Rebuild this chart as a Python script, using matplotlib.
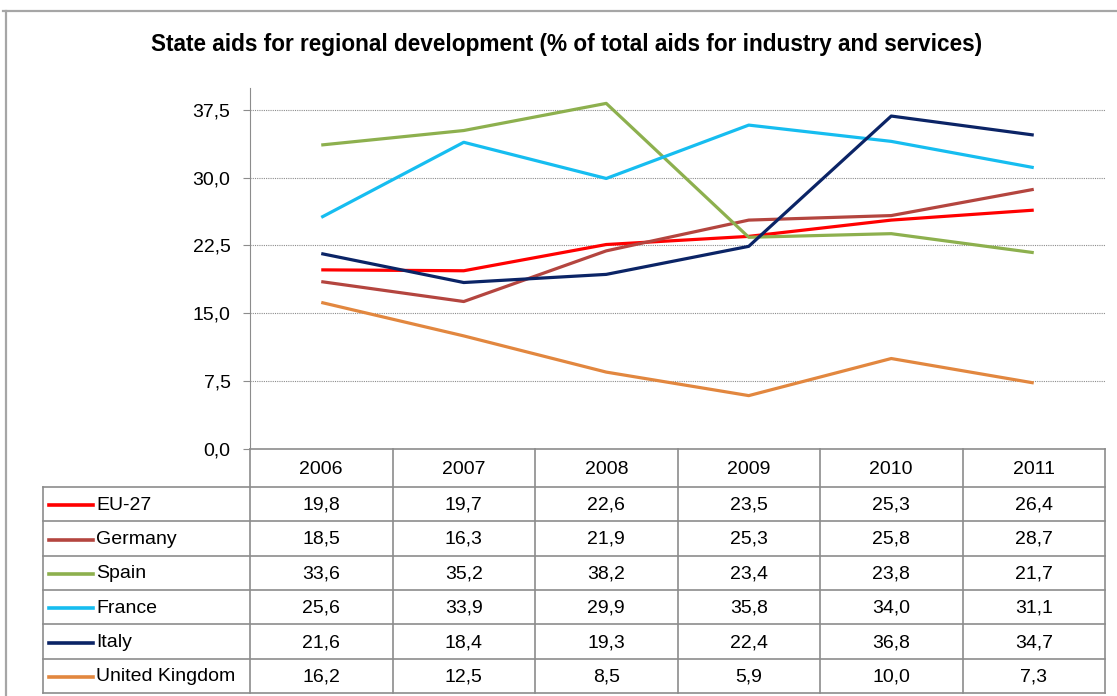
import matplotlib
matplotlib.use('Agg')
import matplotlib.pyplot as plt
from matplotlib.lines import Line2D

plt.rcParams['font.family'] = ['Liberation Sans', 'DejaVu Sans']

years = ['2006', '2007', '2008', '2009', '2010', '2011']
countries = ['EU-27', 'Germany', 'Spain', 'France', 'Italy', 'United Kingdom']
eu27 = [19.8, 19.7, 22.6, 23.5, 25.3, 26.4]
germany = [18.5, 16.3, 21.9, 25.3, 25.8, 28.7]
spain = [33.6, 35.2, 38.2, 23.4, 23.8, 21.7]
france = [25.6, 33.9, 29.9, 35.8, 34.0, 31.1]
italy = [21.6, 18.4, 19.3, 22.4, 36.8, 34.7]
uk = [16.2, 12.5, 8.5, 5.9, 10.0, 7.3]
yticks = [0.0, 7.5, 15.0, 22.5, 30.0, 37.5]

series = [eu27, germany, spain, france, italy, uk]
colors = ['#FF0000', '#B4453F', '#8DB04E', '#16BDF0', '#0B2466', '#E2873F']

W, H = 1117, 696
fig = plt.figure(figsize=(W / 100, H / 100), dpi=100)

def fx(px):
    return px / W

def fy(py):
    return 1 - py / H

fig.text(fx(567), fy(45), 'State aids for regional development (% of total aids for industry and services)',
         ha='center', va='center', fontsize=16.3, fontweight='bold')

# plot area
x0, x1, ytop, ybot = 250, 1105, 88, 449
ax = fig.add_axes([fx(x0), fy(ybot), fx(x1) - fx(x0), fy(ytop) - fy(ybot)])
xs = range(len(years))
for vals, c in zip(series, colors):
    ax.plot(xs, vals, color=c, linewidth=2.3, solid_capstyle='butt')
ax.set_xlim(-0.5, len(years) - 0.5)
ax.set_ylim(0, 39.9)
ax.set_yticks(yticks)
ax.set_yticklabels([('%.1f' % v).replace('.', ',') for v in yticks], fontsize=14)
ax.set_xticks([])
for v in yticks[1:]:
    ax.axhline(v, color='#8C8C8C', linewidth=0.8, linestyle=(0, (1, 1)), zorder=0)
for s in ['top', 'right', 'bottom']:
    ax.spines[s].set_visible(False)
ax.spines['left'].set_color('#8C8C8C')
ax.tick_params(axis='y', length=5, color='#8C8C8C', pad=9)

# overlay in pixel coords for frame + data table
tab = fig.add_axes([0, 0, 1, 1], facecolor='none')
tab.set_xlim(0, W)
tab.set_ylim(H, 0)
tab.axis('off')

# outer frame (only top and left visible in the crop)
tab.plot([3, W], [11, 11], color='#A6A6A6', linewidth=1.6)
tab.plot([6, 6], [11, H], color='#A6A6A6', linewidth=1.6)

grid_c = '#8C8C8C'
lab_x0 = 43
col_w = (x1 - x0) / len(years)
head_top, head_bot, tab_bot = 449, 487, 693
row_h = (tab_bot - head_bot) / len(countries)

# header row
tab.plot([x0, x1], [head_top, head_top], color=grid_c, linewidth=1.2)
for i, yr in enumerate(years):
    tab.text(x0 + col_w * (i + 0.5), (head_top + head_bot) / 2 + 1, yr,
             ha='center', va='center', fontsize=14)
for i in range(len(years) + 1):
    tab.plot([x0 + col_w * i] * 2, [head_top, tab_bot], color=grid_c, linewidth=1.2)

# body rows
for r in range(len(countries) + 1):
    y = head_bot + r * row_h
    tab.plot([lab_x0, x1], [y, y], color=grid_c, linewidth=1.2)
tab.plot([lab_x0, lab_x0], [head_bot, tab_bot], color=grid_c, linewidth=1.2)
for r, (name, vals, c) in enumerate(zip(countries, series, colors)):
    yc = head_bot + (r + 0.5) * row_h + 1
    tab.add_line(Line2D([49, 93], [yc, yc], color=c, linewidth=2.6))
    tab.text(96, yc, name, ha='left', va='center', fontsize=14)
    for i, v in enumerate(vals):
        tab.text(x0 + col_w * (i + 0.5), yc, ('%.1f' % v).replace('.', ','),
                 ha='center', va='center', fontsize=14)

fig.savefig('out.png', dpi=100)
